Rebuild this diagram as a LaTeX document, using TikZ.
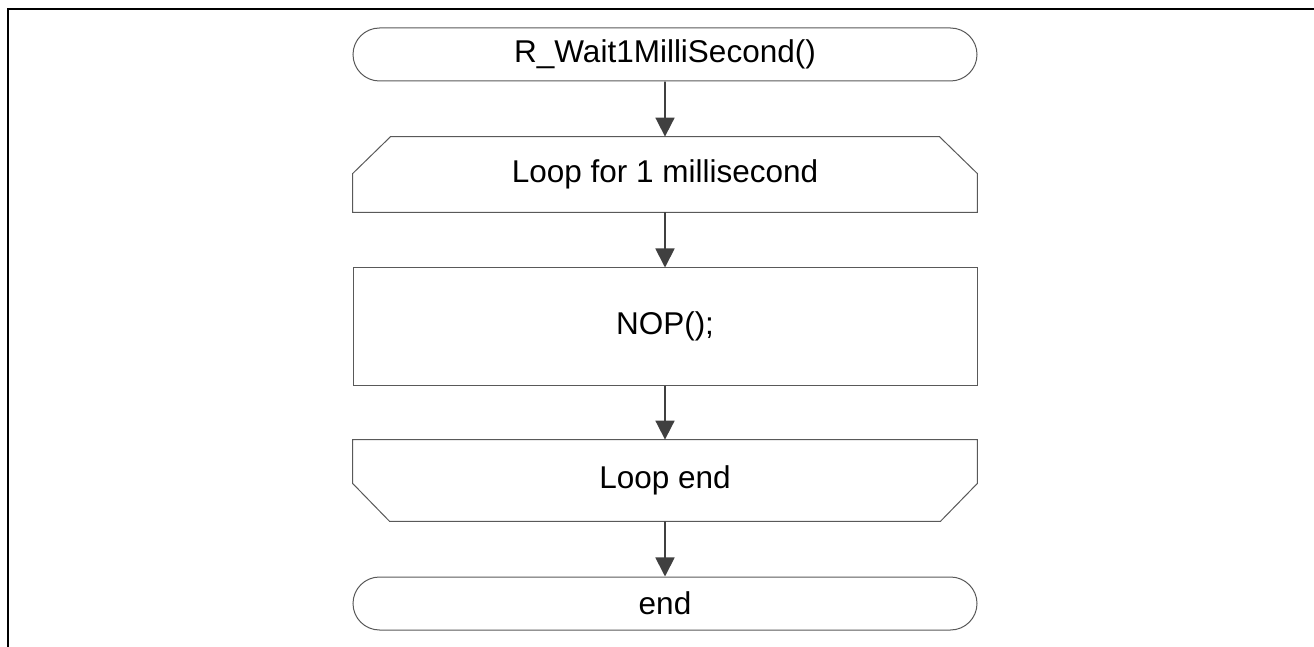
\documentclass[tikz,border=0pt]{standalone}
\usepackage{fontspec}
\setmainfont{Liberation Sans}
\usetikzlibrary{shapes.misc,arrows.meta}
\definecolor{boxgray}{RGB}{89,89,89}
\definecolor{flowgray}{RGB}{64,64,64}

\begin{document}
\begin{tikzpicture}[x=0.5pt,y=-0.5pt]
\tikzstyle{every node}+=[font=\fontsize{15.75}{18}\selectfont, inner sep=0pt]
\tikzstyle{term}=[draw=boxgray, line width=0.5pt, rounded rectangle, minimum width=312pt, minimum height=26.5pt]
\tikzstyle{proc}=[draw=boxgray, line width=0.5pt, rectangle, minimum width=312pt]
\tikzstyle{loopbox}=[rectangle, minimum width=312pt]
\tikzstyle{outline}=[draw=boxgray, line width=0.5pt, line join=miter]
\tikzstyle{flow}=[draw=flowgray, line width=0.9pt, -{Triangle[length=9.5pt,width=9.5pt]}]
\useasboundingbox (0,0) rectangle (1314,647);
% frame
\draw [line width=1pt] (8,647) -- (8,9) -- (1314,9);
% blocks
\node [term] (start) at (665,54.5) {R\_Wait1MilliSecond()};
\node [loopbox, minimum height=37.5pt] (loopbegin) at (665,174.5) {Loop for 1 millisecond};
\node [proc, minimum height=58.5pt] (nop) at (665,326.5) {NOP();};
\node [loopbox, minimum height=40.5pt] (loopend) at (665,480.5) {Loop end};
\node [term] (end) at (665,603.5) {end};
% loop limit outlines
\draw [outline] (loopbegin.south west) -- ([yshift=-18.5pt]loopbegin.north west)
  -- ([xshift=19pt]loopbegin.north west) -- ([xshift=-19pt]loopbegin.north east)
  -- ([yshift=-18.5pt]loopbegin.north east) -- (loopbegin.south east) -- cycle;
\draw [outline] (loopend.north west) -- ([yshift=19pt]loopend.south west)
  -- ([xshift=18.5pt]loopend.south west) -- ([xshift=-18.5pt]loopend.south east)
  -- ([yshift=19pt]loopend.south east) -- (loopend.north east) -- cycle;
% arrows
\draw [flow] (start) -- (loopbegin);
\draw [flow] (loopbegin) -- (nop);
\draw [flow] (nop) -- (loopend);
\draw [flow] (loopend) -- (end);
\end{tikzpicture}
\end{document}
